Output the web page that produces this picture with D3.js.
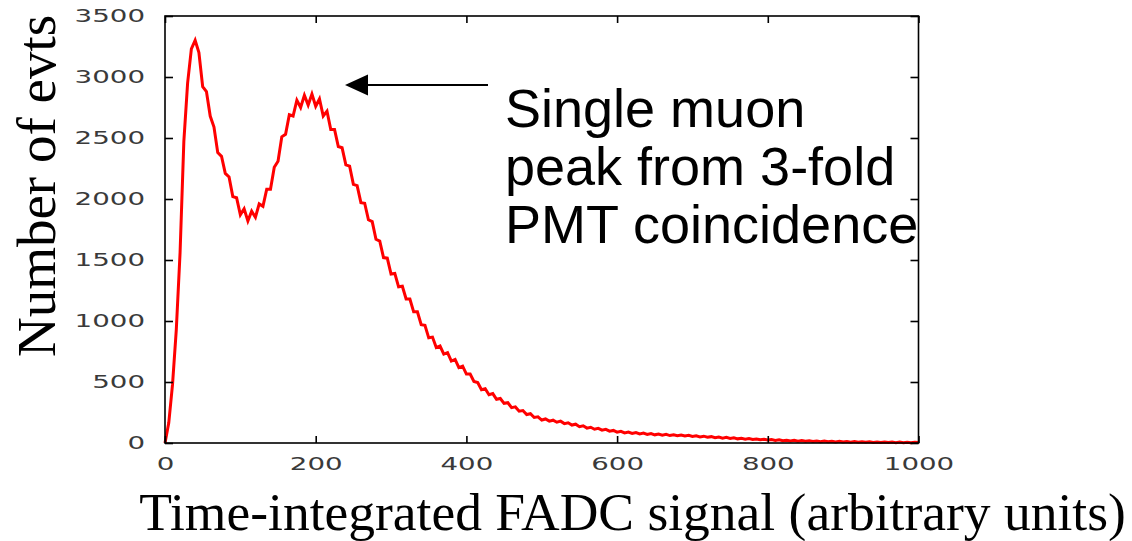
<!DOCTYPE html>
<html>
<head>
<meta charset="utf-8">
<script src="https://cdn.jsdelivr.net/npm/d3@7"></script>
<style>
  html, body { margin: 0; padding: 0; background: #fff; }
  svg { display: block; }
</style>
</head>
<body>
<svg id="chart" width="1132" height="541"></svg>
<script>
// ---- data ----
const binWidth = 5;
const counts = [
  0,165,480,930,1560,2470,2950,3230,3300,3200,
  2920,2880,2680,2590,2380,2350,2210,2180,2020,2010,
  1870,1920,1820,1900,1850,1960,1940,2080,2080,2260,
  2310,2510,2530,2690,2680,2810,2750,2850,2770,2860,
  2760,2820,2680,2720,2570,2570,2430,2420,2280,2270,
  2120,2110,1970,1965,1830,1815,1670,1655,1520,1515,
  1385,1390,1280,1285,1180,1180,1075,1075,970,965,
  862,868,782,795,728,740,672,685,618,630,
  565,565,505,495,436,445,396,405,358,365,
  325,330,290,296,261,266,233,240,209,214,
  188,197,179,187,170,179,159,166,147,154,
  134,141,122,129,113,120,105,112,97,103,
  89,96,83,90,78,85,74,81,70,77,
  67,74,64,71,61,68,59,65,57,63,
  54,59,50,56,47,52,43,49,40,46,
  37,42,34,39,31,36,29,33,26,31,
  24,28,21,26,19,23,17,22,15,20,
  14,19,12,17,11,16,10,15,9,14,
  8,13,7,12,6,11,6,10,5,9,
  4,9,4,8,3,8,3,7,3,7,
  4
];
const xTicks = [0, 200, 400, 600, 800, 1000];
const yTicks = [0, 500, 1000, 1500, 2000, 2500, 3000, 3500];
const xLabel = "Time-integrated FADC signal (arbitrary units)";
const yLabel = "Number of evts";
const noteLines = ["Single muon", "peak from 3-fold", "PMT coincidence"];

// ---- layout ----
const svg = d3.select("#chart");
const L = 165, R = 918.5, T = 16, B = 443;
const x = d3.scaleLinear().domain([0, 1000]).range([L, R]);
const y = d3.scaleLinear().domain([0, 3500]).range([B, T]);

const pts = counts.map((c, i) => [i * binWidth, c]);

// curve
svg.append("path")
  .datum(pts)
  .attr("fill", "none")
  .attr("stroke", "#ff0000")
  .attr("stroke-width", 3)
  .attr("stroke-linejoin", "miter")
  .attr("d", d3.line().x(d => x(d[0])).y(d => y(d[1])));

// frame
svg.append("rect")
  .attr("x", L).attr("y", T).attr("width", R - L).attr("height", B - T)
  .attr("fill", "none").attr("stroke", "#000").attr("stroke-width", 1.6);

// axes (ticks inward, mirrored)
const tickFont = "'DejaVu Sans', sans-serif";
const fmt = d3.format("d");
const gx = svg.append("g").attr("transform", `translate(0,${B})`)
  .call(d3.axisBottom(x).tickValues(xTicks).tickFormat(fmt).tickSize(-7).tickPadding(14));
const gxt = svg.append("g").attr("transform", `translate(0,${T})`)
  .call(d3.axisTop(x).tickValues(xTicks).tickSize(-7).tickFormat(""));
const gy = svg.append("g").attr("transform", `translate(${L},0)`)
  .call(d3.axisLeft(y).tickValues(yTicks).tickFormat(fmt).tickSize(-8).tickPadding(20));
const gyr = svg.append("g").attr("transform", `translate(${R},0)`)
  .call(d3.axisRight(y).tickValues(yTicks).tickSize(-8).tickFormat(""));

[gx, gxt, gy, gyr].forEach(g => {
  g.select(".domain").remove();
  g.selectAll(".tick line").attr("stroke", "#000").attr("stroke-width", 1.6);
  g.selectAll(".tick text")
    .attr("font-family", tickFont)
    .attr("font-size", 18)
    .attr("fill", "#3a3a3a")
    .attr("lengthAdjust", "spacingAndGlyphs")
    .attr("textLength", function() { return this.textContent.length * 17.6; });
});
gx.selectAll(".tick text").attr("dy", "0.71em");

// axis titles
svg.append("text")
  .attr("x", (140 + 1125) / 2).attr("y", 530)
  .attr("text-anchor", "middle")
  .attr("font-family", "'Liberation Serif', 'Times New Roman', serif")
  .attr("font-size", 53.5)
  .attr("fill", "#000")
  .text(xLabel);

svg.append("text")
  .attr("transform", "translate(55,186) rotate(-90)")
  .attr("text-anchor", "middle")
  .attr("font-family", "'Liberation Serif', 'Times New Roman', serif")
  .attr("font-size", 55)
  .attr("fill", "#000")
  .text(yLabel);

// annotation arrow
const arrowY = 85;
svg.append("line")
  .attr("x1", 488).attr("x2", 362).attr("y1", arrowY).attr("y2", arrowY)
  .attr("stroke", "#000").attr("stroke-width", 2);
svg.append("path")
  .attr("d", `M345,${arrowY} L368,${arrowY - 10.5} L368,${arrowY + 10.5} Z`)
  .attr("fill", "#000");

// annotation text
const note = svg.append("text")
  .attr("font-family", "'Liberation Sans', Arial, sans-serif")
  .attr("font-size", 54)
  .attr("fill", "#000");
noteLines.forEach((t, i) => {
  note.append("tspan").attr("x", 505).attr("y", 127 + i * 58).text(t);
});
</script>
</body>
</html>
